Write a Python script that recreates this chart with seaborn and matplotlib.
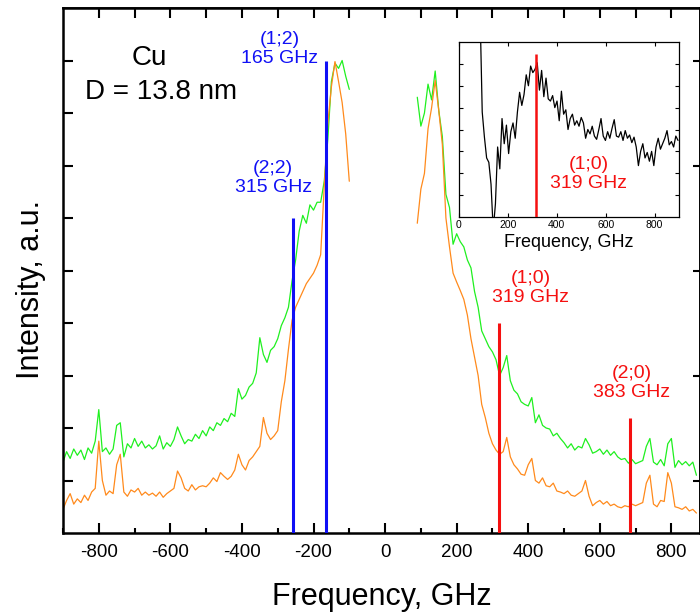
import numpy as np
import pandas as pd
import matplotlib
matplotlib.use("Agg")
import matplotlib.pyplot as plt
import seaborn as sns

sns.set_theme(style="ticks")
plt.rcParams["font.family"] = ["Liberation Sans", "DejaVu Sans"]
plt.rcParams["axes.unicode_minus"] = False
for key in ["text.color", "axes.labelcolor", "axes.edgecolor", "xtick.color", "ytick.color"]:
    plt.rcParams[key] = "black"

# ---- spectra (Stokes / anti-Stokes sides) ----
freq_neg = np.arange(-900, -90, 10)   # -900 ... -100 GHz
freq_pos = np.arange(90, 880, 10)     # 90 ... 870 GHz

upper_neg = [1.35, 1.55, 1.42, 1.60, 1.48, 1.58, 1.40, 1.62, 1.52, 1.75,
             2.35, 1.55, 1.62, 1.50, 1.60, 2.05, 2.10, 1.45, 1.70, 1.62,
             1.80, 1.65, 1.75, 1.62, 1.68, 1.60, 1.66, 1.85, 1.60, 1.72,
             1.65, 1.78, 2.02, 1.85, 1.70, 1.78, 1.75, 1.88, 1.80, 1.95,
             1.85, 2.02, 1.95, 2.10, 2.05, 2.18, 2.12, 2.28, 2.22, 2.75,
             2.55, 2.62, 2.78, 2.85, 3.05, 3.72, 3.40, 3.25, 3.48, 3.55,
             3.70, 3.95, 4.10, 4.30, 4.80, 5.20, 5.75, 6.05, 5.90, 6.25,
             6.15, 6.30, 6.30, 6.70, 7.50, 8.60, 8.95, 8.85, 9.00, 8.70,
             8.45]
lower_neg = [0.45, 0.62, 0.75, 0.55, 0.65, 0.58, 0.72, 0.62, 0.78, 0.85,
             1.75, 1.00, 0.72, 0.80, 0.75, 1.30, 1.50, 0.78, 0.70, 0.82,
             0.78, 0.85, 0.72, 0.78, 0.72, 0.76, 0.70, 0.78, 0.68, 0.75,
             0.80, 0.85, 1.18, 1.05, 0.85, 0.80, 0.92, 0.82, 0.88, 0.90,
             0.88, 0.95, 1.05, 0.98, 1.15, 1.08, 1.02, 1.08, 1.20, 1.50,
             1.30, 1.20, 1.38, 1.45, 1.55, 1.65, 2.20, 1.90, 1.78, 1.85,
             1.95, 2.50, 2.90, 3.50, 4.05, 4.30, 4.45, 4.60, 4.75, 4.85,
             4.95, 5.10, 5.30, 6.60, 7.80, 8.50, 8.98, 8.60, 8.20, 7.60,
             6.70]
upper_pos = [8.30, 7.75, 8.00, 8.55, 8.25, 8.80, 8.05, 7.55, 6.45, 6.20,
             5.50, 5.70, 5.55, 5.45, 5.20, 5.05, 4.60, 4.30, 3.85, 3.70,
             3.55, 3.45, 3.30, 3.00, 3.15, 3.38, 2.90, 2.72, 2.65, 2.50,
             2.45, 2.42, 2.58, 2.10, 2.25, 2.05, 2.00, 1.98, 1.85, 1.90,
             1.80, 1.72, 1.62, 1.70, 1.58, 1.65, 1.62, 1.80, 1.68, 1.52,
             1.55, 1.60, 1.50, 1.58, 1.48, 1.55, 1.45, 1.40, 1.42, 1.33,
             1.40, 1.32, 1.35, 1.38, 1.65, 1.80, 1.35, 1.30, 1.40, 1.28,
             1.70, 1.80, 1.25, 1.38, 1.30, 1.36, 1.28, 1.35, 1.10]
lower_pos = [5.90, 6.55, 6.85, 7.70, 8.10, 8.62, 8.05, 7.40, 6.00, 5.45,
             4.95, 4.78, 4.62, 4.45, 4.15, 3.70, 3.35, 3.00, 2.45, 2.20,
             1.90, 1.70, 1.58, 1.50, 1.55, 1.82, 1.45, 1.30, 1.22, 1.12,
             1.10, 1.30, 1.42, 1.00, 0.95, 1.05, 0.90, 0.88, 0.95, 0.80,
             0.78, 0.75, 0.80, 0.72, 0.70, 0.75, 0.80, 1.00, 0.70, 0.52,
             0.58, 0.62, 0.55, 0.60, 0.52, 0.55, 0.50, 0.48, 0.52, 0.50,
             0.55, 0.52, 0.55, 0.58, 0.95, 1.10, 0.55, 0.50, 0.62, 0.60,
             1.15, 0.95, 0.50, 0.48, 0.45, 0.50, 0.42, 0.45, 0.38]

# ---- inset: difference spectrum ----
inset_freq = np.arange(86, 900, 9)
inset_val = [9.5, 4.8, 3.65, 2.7, 2.5, 1.5, -0.6, 0.6, 3.2, 2.2,
             4.5, 3.35, 4.2, 2.9, 3.9, 4.3, 3.6, 4.8, 5.7, 5.1,
             5.6, 6.5, 6.0, 6.9, 6.6, 6.75, 7.05, 5.8, 6.7, 5.5,
             6.35, 5.4, 5.3, 5.55, 5.0, 5.3, 4.4, 5.75, 4.7, 4.9,
             4.0, 4.5, 4.7, 4.2, 4.4, 4.15, 4.55, 4.3, 3.6, 4.0,
             3.8, 4.15, 3.7, 3.55, 4.0, 4.5, 3.7, 3.5, 3.9, 3.6,
             4.05, 4.45, 3.7, 3.65, 3.9, 3.5, 3.95, 3.6, 3.75, 3.4,
             3.65, 3.2, 2.35, 3.0, 3.35, 2.7, 2.95, 2.55, 3.0, 2.35,
             3.2, 3.6, 3.1, 3.35, 3.6, 3.95, 3.3, 3.45, 3.2, 3.7,
             3.5]

# ---- mode markers ----
mode_freq = [-165, -257, 319, 684]
mode_top = [9.0, 6.0, 4.0, 2.2]
mode_color = ["#1010f5", "#1010f5", "#f51010", "#f51010"]
mode_label = ["(1;2)\n165 GHz", "(2;2)\n315 GHz", "(1;0)\n319 GHz", "(2;0)\n383 GHz"]
label_pos = [(-294, 9.22), (-313, 6.77), (406, 4.66), (690, 2.85)]

inset_mode_freq = 317
inset_mode_top = 7.47

frames = []
for name, f, v, seg in [("upper", freq_neg, upper_neg, 0), ("upper", freq_pos, upper_pos, 1),
                        ("lower", freq_neg, lower_neg, 2), ("lower", freq_pos, lower_pos, 3)]:
    frames.append(pd.DataFrame({"freq": f, "intensity": v, "series": name, "segment": seg}))
spectra = pd.DataFrame(pd.concat(frames, ignore_index=True))

fig = plt.figure(figsize=(7.0, 6.13), dpi=100)
ax = fig.add_axes([63 / 700, 80 / 613, 637 / 700, 525 / 613])

sns.lineplot(data=spectra, x="freq", y="intensity", hue="series", units="segment",
             estimator=None, sort=False, palette={"upper": "#1ff01f", "lower": "#ff8a1c"},
             linewidth=0.9, legend=False, ax=ax)

ax.vlines(mode_freq, 0, mode_top, colors=mode_color, linewidth=2.2, zorder=3)
for txt, (lx, ly), c in zip(mode_label, label_pos, mode_color):
    ax.text(lx, ly, txt, color=c, fontsize=14, ha="center", va="center", linespacing=1.15)

ax.text(-660, 9.05, "Cu", fontsize=20, ha="center", va="center")
ax.text(-627, 8.4, "D = 13.8 nm", fontsize=20, ha="center", va="center")

ax.set_xlim(-900, 880)
ax.set_ylim(0, 10)
ax.set_xticks(np.arange(-800, 900, 200))
ax.set_xticks(np.arange(-900, 900, 100), minor=True)
ax.set_yticks(np.arange(1, 10))
ax.set_yticklabels([])
ax.tick_params(axis="x", which="major", direction="in", length=7, width=1.5,
               labelsize=13.5, pad=8)
ax.tick_params(axis="x", which="minor", direction="in", length=3.5, width=1.5)
ax.tick_params(axis="y", direction="in", length=7, width=1.5)
for s in ax.spines.values():
    s.set_linewidth(1.8)
ax.set_xlabel("Frequency, GHz", fontsize=22, labelpad=15)
ax.set_ylabel("Intensity, a.u.", fontsize=22)
ax.yaxis.set_label_coords(-0.026, 0.463)

top = ax.secondary_xaxis("top")
top.set_xticks(np.arange(-800, 900, 100))
top.set_xticklabels([])
top.tick_params(direction="in", length=7, width=1.5)
right = ax.secondary_yaxis("right")
right.set_yticks([1, 3, 5, 7, 9])
right.set_yticklabels([])
right.tick_params(direction="in", length=5, width=1.5)

# ---- inset ----
ins = fig.add_axes([459 / 700, (613 - 217) / 613, 220 / 700, 175 / 613])
sns.lineplot(x=inset_freq, y=inset_val, color="black", linewidth=0.9,
             estimator=None, sort=False, ax=ins)
ins.vlines([inset_mode_freq], 0, [inset_mode_top], colors="#f51010", linewidth=1.8, zorder=3)
ins.text(530, 1.95, "(1;0)\n319 GHz", color="#f51010", fontsize=14,
         ha="center", va="center", linespacing=1.15)
ins.set_xlim(0, 900)
ins.set_ylim(0, 8)
ins.set_xticks(np.arange(0, 900, 200))
ins.set_yticks(np.arange(1, 8))
ins.set_yticklabels([])
ins.tick_params(axis="both", direction="in", length=3, width=0.8,
                top=True, right=True, labelsize=7.5, pad=2)
for s in ins.spines.values():
    s.set_linewidth(0.9)
ins.set_xlabel("Frequency, GHz", fontsize=13, labelpad=3)
ins.set_ylabel("")

fig.savefig("out.png", dpi=100)
